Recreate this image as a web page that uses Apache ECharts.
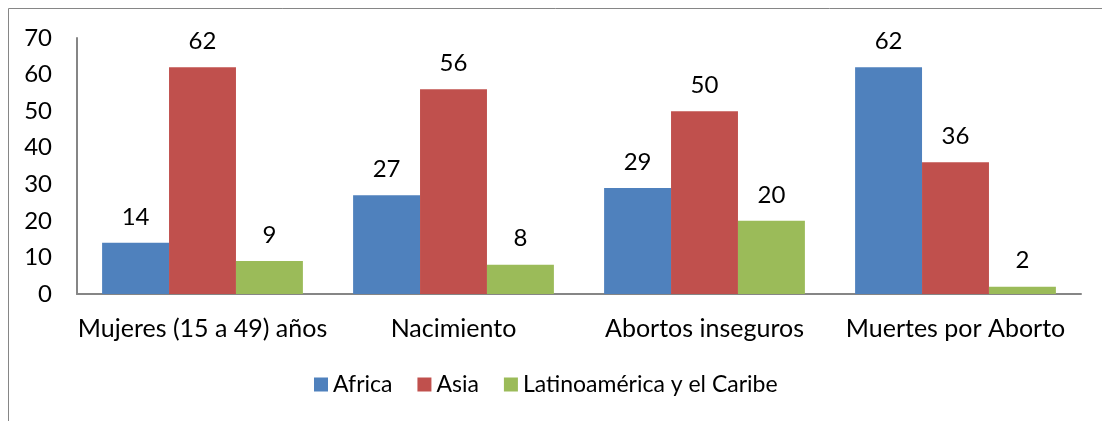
<!DOCTYPE html>
<html>
<head>
<meta charset="utf-8">
<script src="https://cdn.jsdelivr.net/npm/echarts@6/dist/echarts.min.js"></script>
<style>
  html, body { margin: 0; padding: 0; background: #fff; }
  #chart { width: 1102px; height: 421px; }
</style>
</head>
<body>
<div id="chart"></div>
<script>
const categories = ['Mujeres (15 a 49) años', 'Nacimiento', 'Abortos inseguros', 'Muertes por Aborto'];
const africa = [14, 27, 29, 62];
const asia = [62, 56, 50, 36];
const latam = [9, 8, 20, 2];
const seriesNames = ['Africa', 'Asia', 'Latinoamérica y el Caribe'];
const colors = ['#4F81BD', '#C0504D', '#9BBB59'];

const font = 'Lato';
const chart = echarts.init(document.getElementById('chart'), null, { renderer: 'canvas' });

function bar(name, data, color) {
  return {
    name: name,
    type: 'bar',
    data: data,
    barGap: '0%',
    barCategoryGap: '20%',
    itemStyle: { color: color },
    label: {
      show: true,
      position: 'top',
      distance: 14,
      color: '#000',
      fontFamily: font,
      fontSize: 24
    }
  };
}

chart.setOption({
  animation: false,
  textStyle: { fontFamily: font },
  graphic: [{
    type: 'rect',
    shape: { x: 8.5, y: 8.5, width: 1200, height: 600 },
    style: { fill: 'none', stroke: '#868686', lineWidth: 1 },
    silent: true
  }],
  grid: { left: 77, right: 21, top: 38, bottom: 127 },
  legend: {
    top: 368,
    left: 309,
    itemWidth: 14,
    itemHeight: 14,
    itemGap: 25,
    icon: 'rect',
    textStyle: { color: '#000', fontSize: 23, fontFamily: font },
    data: seriesNames
  },
  xAxis: {
    type: 'category',
    data: categories,
    axisLine: { lineStyle: { color: '#868686', width: 2 } },
    axisTick: { show: false },
    axisLabel: { color: '#000', fontSize: 25, margin: 22, fontFamily: font, interval: 0 }
  },
  yAxis: {
    type: 'value',
    min: 0,
    max: 70,
    interval: 10,
    splitLine: { show: false },
    axisLine: { show: true, lineStyle: { color: '#868686', width: 2 } },
    axisTick: { show: false },
    axisLabel: { color: '#000', fontSize: 24, margin: 25, fontFamily: font }
  },
  series: [
    bar(seriesNames[0], africa, colors[0]),
    bar(seriesNames[1], asia, colors[1]),
    bar(seriesNames[2], latam, colors[2])
  ]
});
</script>
</body>
</html>
